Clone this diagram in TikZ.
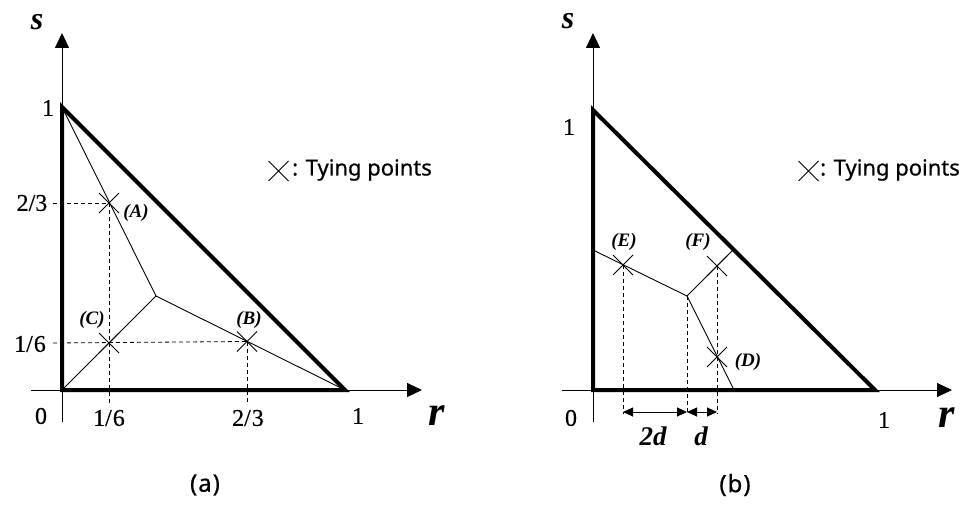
\documentclass[tikz,border=0pt]{standalone}
\usepackage{fontspec}
\setmainfont{Liberation Serif}
\newfontfamily\legendfont[FakeBold=0.6]{Noto Sans}
\newfontfamily\numfont[FakeBold=0.4]{Liberation Serif}
\usetikzlibrary{arrows.meta,shapes.misc}
\begin{document}
\begin{tikzpicture}[x=1pt,y=-1pt,
  thickline/.style={line width=4pt},
  thinline/.style={line width=0.9pt},
  axis/.style={line width=0.9pt,-{Triangle[length=15pt,width=14pt]}},
  guide/.style={line width=0.8pt,dash pattern=on 4pt off 3pt},
  tie/.style={cross out,draw,line width=1pt,minimum size=19pt,inner sep=0pt},
  num/.style={font=\numfont\fontsize{24}{24}\selectfont,inner sep=0pt},
  svar/.style={font=\fontsize{32}{32}\selectfont\bfseries\itshape,inner sep=0pt},
  rvar/.style={font=\fontsize{42}{42}\selectfont\bfseries\itshape,inner sep=0pt},
  ptlabel/.style={font=\fontsize{19}{19}\selectfont\bfseries\itshape,inner sep=0pt},
  dimlabel/.style={font=\fontsize{27}{27}\selectfont\bfseries\itshape,inner sep=0pt},
  legend/.style={font=\legendfont\fontsize{22}{22}\selectfont,inner sep=0pt,anchor=west},
  caption/.style={font=\legendfont\fontsize{24}{24}\selectfont,inner sep=0pt},
  dim/.style={line width=0.9pt,{Triangle[length=10pt,width=9pt]}-{Triangle[length=10pt,width=9pt]}}
]
\useasboundingbox (0,0) rectangle (965,516);

% ---------------- panel (a) ----------------
\coordinate (aO) at (62,390);
\coordinate (aT) at (62,107);
\coordinate (aR) at (345,390);
\coordinate (aC) at (156,296);
\coordinate (aSb) at (62,422);
\coordinate (aSt) at (62,33);
\coordinate (aRl) at (31,390);
\coordinate (aRr) at (422,390);
\draw[axis] (aRl) -- (aRr);
\draw[axis] (aSb) -- (aSt);
\draw[thinline] (aT) -- (aC) -- (aR);
\draw[thinline] (aO) -- (aC);

\node[tie] (A) at (109,203) {};
\node[tie] (B) at (247,341.5) {};
\node[tie] (C) at (109,343) {};
\coordinate (aA0) at (53,203);
\coordinate (aB0) at (53,343);
\coordinate (aAd) at (109,403);
\coordinate (aBd) at (247,403);
\draw[guide] (aA0) -- (A.center);
\draw[guide] (A.center) -- (aAd);
\draw[guide] (aB0) -- (B.center);
\draw[guide] (B.center) -- (aBd);
\draw[thickline] (aT) -- (aO) -- (aR) -- cycle;

\node[num] (a1s) at (48,108) {1};
\node[num] (a23s) at (32,203) {2/3};
\node[num] (a16s) at (30,344) {1/\kern1pt6};
\node[num] (a0) at (41,416) {0};
\node[num] (a16r) at (109,418) {1/\kern1pt6};
\node[num] (a23r) at (248,418) {2/\kern1pt3};
\node[num] (a1r) at (358,416) {1};
\node[svar] (as) at (37,22) {s};
\node[rvar] (ar) at (437,416) {r};
\node[ptlabel] (lA) at (136,213) {(A)};
\node[ptlabel] (lB) at (249,320) {(B)};
\node[ptlabel] (lC) at (92,320) {(C)};

\node[tie] (aleg) at (278.5,171) {};
\node[legend] (alegt) at (292,170) {: Tying points};
\node[caption] (capa) at (205,485) {(\kern1pt a\kern1pt)};

% ---------------- panel (b) ----------------
\coordinate (bO) at (593,390);
\coordinate (bT) at (593,110);
\coordinate (bR) at (875,390);
\coordinate (bC) at (687,296);
\coordinate (bLm) at (593,250);
\coordinate (bHm) at (734,249);
\coordinate (bBm) at (734,390);
\coordinate (bSb) at (593,422);
\coordinate (bSt) at (593,33);
\coordinate (bRl) at (562,390);
\coordinate (bRr) at (952,390);
\draw[axis] (bRl) -- (bRr);
\draw[axis] (bSb) -- (bSt);
\draw[thinline] (bLm) -- (bC) -- (bHm);
\draw[thinline] (bC) -- (bBm);

\node[tie] (E) at (623,265) {};
\node[tie] (F) at (717,266) {};
\node[tie] (D) at (717,357) {};
\coordinate (bEd) at (623,414);
\coordinate (bCd) at (687,414);
\coordinate (bFd) at (717,414);
\coordinate (bE2) at (623,412);
\coordinate (bC2) at (687,412);
\coordinate (bF2) at (717,412);
\draw[guide] (E.center) -- (bEd);
\draw[guide] (bC) -- (bCd);
\draw[guide] (F.center) -- (bFd);
\draw[dim] (bE2) -- (bC2);
\draw[dim] (bC2) -- (bF2);
\draw[thickline] (bT) -- (bO) -- (bR) -- cycle;

\node[num] (b1s) at (569,127) {1};
\node[num] (b0) at (571,418) {0};
\node[num] (b1r) at (884,420) {1};
\node[svar] (bs) at (568,21) {s};
\node[rvar] (br) at (947,418) {r};
\node[ptlabel] (lE) at (624,242) {(E)};
\node[ptlabel] (lF) at (698,242) {(F)};
\node[ptlabel] (lD) at (748,362) {(D)};
\node[dimlabel] (l2d) at (653,436) {2d};
\node[dimlabel] (ld) at (701,436) {d};

\node[tie] (bleg) at (808.5,171) {};
\node[legend] (blegt) at (820,170) {: Tying points};
\node[caption] (capb) at (735,485) {(\kern1pt b\kern1pt)};
\end{tikzpicture}
\end{document}
